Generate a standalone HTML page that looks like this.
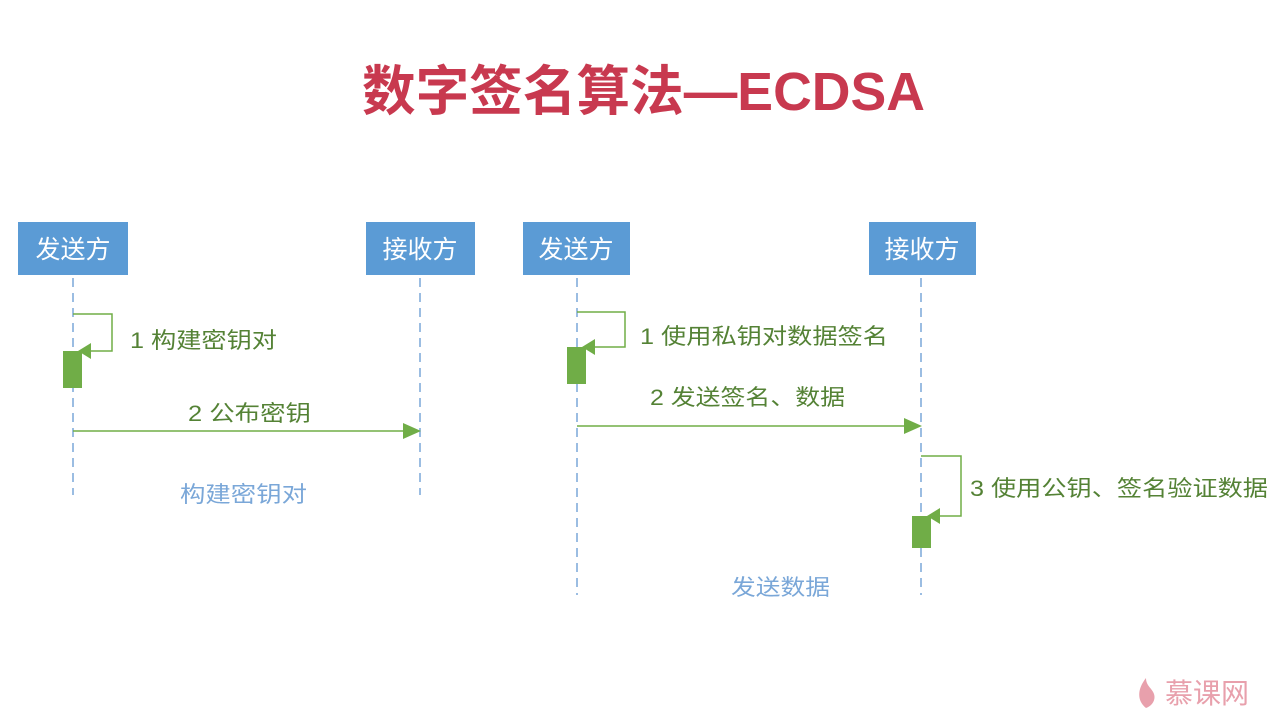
<!DOCTYPE html>
<html><head><meta charset="utf-8"><style>
html,body{margin:0;padding:0;background:#fff;width:1280px;height:720px;overflow:hidden}
text{font-family:"Liberation Sans","Noto Sans CJK SC",sans-serif}
</style></head><body>
<svg width="1280" height="720" viewBox="0 0 1280 720" xmlns="http://www.w3.org/2000/svg">
<text x="362" y="110" font-size="54" font-weight="bold" fill="#c8394f" textLength="563" lengthAdjust="spacingAndGlyphs">数字签名算法—ECDSA</text>

<g fill="#5b9bd5">
<rect x="18" y="222" width="110" height="53"/>
<rect x="366" y="222" width="109" height="53"/>
<rect x="523" y="222" width="107" height="53"/>
<rect x="869" y="222" width="107" height="53"/>
</g>
<g fill="#fff" font-size="25" text-anchor="middle">
<text x="73" y="258">发送方</text>
<text x="420" y="258">接收方</text>
<text x="576" y="258">发送方</text>
<text x="922" y="258">接收方</text>
</g>
<g stroke="#7aa7d8" stroke-width="1.5" stroke-dasharray="9,6">
<line x1="73" y1="278" x2="73" y2="495"/>
<line x1="420" y1="278" x2="420" y2="495"/>
<line x1="577" y1="278" x2="577" y2="595"/>
<line x1="921" y1="278" x2="921" y2="595"/>
</g>
<g stroke="#70ad47" stroke-width="1.5" fill="none">
<polyline points="73,314 112,314 112,351 86,351"/>
<line x1="73" y1="431" x2="406" y2="431"/>
<polyline points="577,312 625,312 625,347 590,347"/>
<line x1="577" y1="426" x2="907" y2="426"/>
<polyline points="921,456 961,456 961,516 935,516"/>
</g>
<g fill="#70ad47">
<rect x="63" y="351" width="19" height="37"/>
<polygon points="78,351 91,343 91,359"/>
<polygon points="421,431 403,423 403,439"/>
<rect x="567" y="347" width="19" height="37"/>
<polygon points="582,347 595,339 595,355"/>
<polygon points="922,426 904,418 904,434"/>
<rect x="912" y="516" width="19" height="32"/>
<polygon points="927,516 940,508 940,524"/>
</g>
<g fill="#548235" font-size="22">
<text x="130" y="348" textLength="147" lengthAdjust="spacingAndGlyphs">1 构建密钥对</text>
<text x="188" y="421" textLength="123" lengthAdjust="spacingAndGlyphs">2 公布密钥</text>
<text x="640" y="344" textLength="248" lengthAdjust="spacingAndGlyphs">1 使用私钥对数据签名</text>
<text x="650" y="405" textLength="195" lengthAdjust="spacingAndGlyphs">2 发送签名、数据</text>
<text x="970" y="496" textLength="298" lengthAdjust="spacingAndGlyphs">3 使用公钥、签名验证数据</text>
</g>
<g fill="#7aa7d8" font-size="22">
<text x="180" y="502" textLength="127" lengthAdjust="spacingAndGlyphs">构建密钥对</text>
<text x="731" y="595" textLength="99" lengthAdjust="spacingAndGlyphs">发送数据</text>
</g>
<g fill="#e8a0ac">
<path d="M1146,708 C1136,700 1138,688 1146,678 C1146,686 1152,688 1154,694 C1156,700 1152,706 1146,708 Z"/>
<text x="1165" y="703" font-size="28">慕课网</text>
</g>
</svg>
</body></html>
